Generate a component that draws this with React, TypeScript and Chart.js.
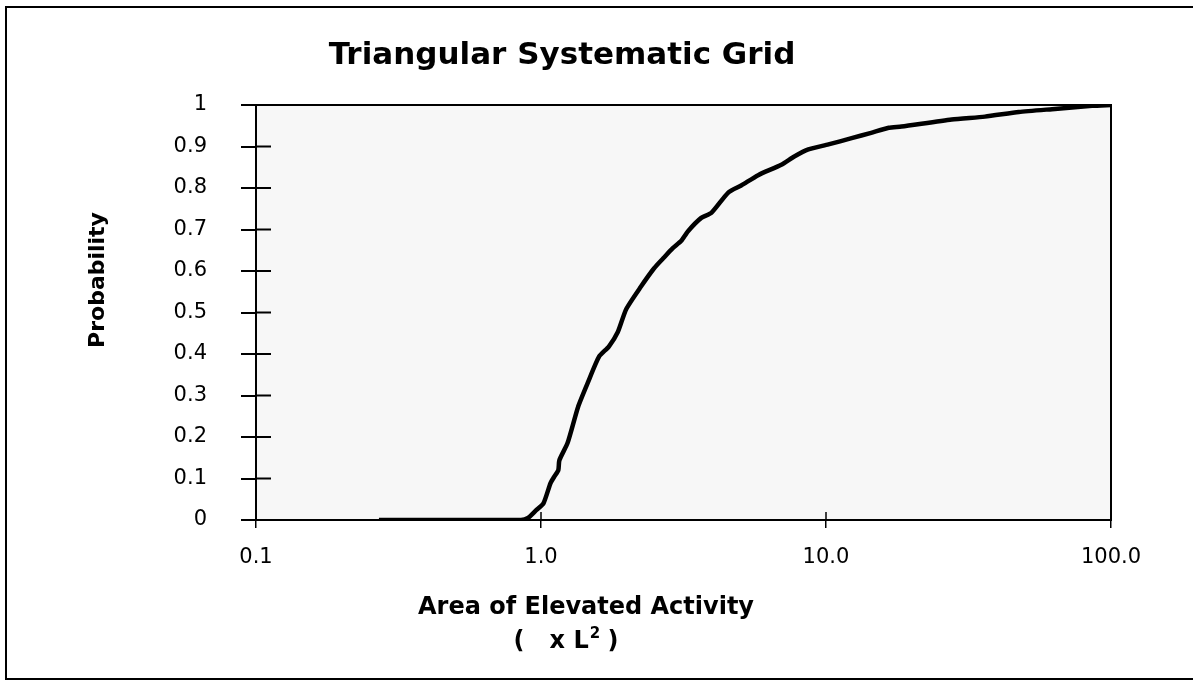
import { useEffect, useRef } from "react";
import { Chart, registerables } from "chart.js";

Chart.register(...registerables);

const chartTitle = "Triangular Systematic Grid";
const yAxisTitle = "Probability";
const xAxisTitleLine1 = "Area of Elevated Activity";
const xAxisTitleLine2Base = "(   x L";
const xAxisTitleLine2Sup = "2";
const xAxisTitleLine2End = " )";

const xTickValues = [0.1, 1, 10, 100];
const xTickLabels = ["0.1", "1.0", "10.0", "100.0"];
const yTickValues = [0, 0.1, 0.2, 0.3, 0.4, 0.5, 0.6, 0.7, 0.8, 0.9, 1];
const yTickLabels = ["0", "0.1", "0.2", "0.3", "0.4", "0.5", "0.6", "0.7", "0.8", "0.9", "1"];

const areaValues = [
  0.27, 0.85, 0.9, 0.96, 1.02, 1.08, 1.11, 1.15, 1.16, 1.24, 1.35, 1.46, 1.6, 1.73,
  1.86, 1.99, 2.24, 2.49, 2.68, 2.9, 3.1, 3.28, 3.65, 3.96, 4.54, 5.04, 5.78, 6.97,
  7.74, 8.67, 10.2, 12.3, 14.4, 16.6, 18.4, 27.6, 36.1, 47.5, 62.1, 85.8, 100,
];
const probabilityValues = [
  0, 0, 0.005, 0.023, 0.04, 0.089, 0.103, 0.12, 0.144, 0.186, 0.273, 0.331, 0.394, 0.418,
  0.453, 0.508, 0.562, 0.606, 0.63, 0.655, 0.672, 0.696, 0.728, 0.74, 0.789, 0.806, 0.831, 0.856,
  0.876, 0.893, 0.905, 0.92, 0.933, 0.945, 0.948, 0.965, 0.972, 0.983, 0.99, 0.998, 1.0,
];

const FONT = "'DejaVu Sans', 'Liberation Sans', Arial, sans-serif";

const decorPlugin = {
  id: "decor",
  beforeDraw(chart: any) {
    const { ctx, chartArea } = chart;
    ctx.save();
    ctx.fillStyle = "#f7f7f7";
    ctx.fillRect(chartArea.left, chartArea.top, chartArea.right - chartArea.left, chartArea.bottom - chartArea.top);
    ctx.restore();
  },
  afterDraw(chart: any) {
    const { ctx, chartArea, scales } = chart;
    const { left, right, top, bottom } = chartArea;
    ctx.save();
    ctx.strokeStyle = "#000";
    ctx.lineWidth = 2;
    ctx.strokeRect(left, top, right - left, bottom - top);
    yTickValues.forEach((v) => {
      const py = scales.y.getPixelForValue(v);
      ctx.beginPath();
      ctx.moveTo(left, py);
      ctx.lineTo(left + 15, py);
      ctx.stroke();
    });
    ctx.lineWidth = 1.5;
    xTickValues.forEach((v) => {
      const px = scales.x.getPixelForValue(v);
      ctx.beginPath();
      ctx.moveTo(px, bottom);
      ctx.lineTo(px, bottom - 8);
      ctx.stroke();
    });
    ctx.lineWidth = 2;
    ctx.beginPath();
    ctx.moveTo(1193, 7);
    ctx.lineTo(6, 7);
    ctx.lineTo(6, 679);
    ctx.lineTo(1193, 679);
    ctx.stroke();
    ctx.fillStyle = "#000";
    ctx.textAlign = "center";
    ctx.textBaseline = "middle";
    ctx.font = `bold 31px ${FONT}`;
    ctx.fillText(chartTitle, 562, 56);
    ctx.font = `bold 22px ${FONT}`;
    ctx.save();
    ctx.translate(98, 280);
    ctx.rotate(-Math.PI / 2);
    ctx.fillText(yAxisTitle, 0, 0);
    ctx.restore();
    ctx.font = `bold 24px ${FONT}`;
    ctx.fillText(xAxisTitleLine1, 586, 608);
    // second line with a real superscript
    const mainFont = `bold 24px ${FONT}`;
    const supFont = `bold 15px ${FONT}`;
    ctx.font = mainFont;
    const wBase = ctx.measureText(xAxisTitleLine2Base).width;
    const wEnd = ctx.measureText(xAxisTitleLine2End).width;
    ctx.font = supFont;
    const wSup = ctx.measureText(xAxisTitleLine2Sup).width;
    const total = wBase + wSup + wEnd;
    let x0 = 566 - total / 2;
    ctx.textAlign = "left";
    ctx.font = mainFont;
    ctx.fillText(xAxisTitleLine2Base, x0, 642);
    x0 += wBase;
    ctx.font = supFont;
    ctx.fillText(xAxisTitleLine2Sup, x0 + 1, 634);
    x0 += wSup;
    ctx.font = mainFont;
    ctx.fillText(xAxisTitleLine2End, x0, 642);
    ctx.restore();
  },
};

export default function App() {
  const canvasRef = useRef<HTMLCanvasElement | null>(null);

  useEffect(() => {
    if (!canvasRef.current) return;
    const data = areaValues.map((x, i) => ({ x, y: probabilityValues[i] }));
    const chart = new Chart(canvasRef.current, {
      type: "line",
      data: {
        datasets: [
          {
            data,
            borderColor: "#000",
            borderWidth: 4.5,
            pointRadius: 0,
            tension: 0.2,
            fill: false,
          },
        ],
      },
      options: {
        animation: false,
        responsive: true,
        maintainAspectRatio: false,
        layout: { padding: { left: 0, right: 82, top: 105, bottom: 0 } },
        plugins: {
          legend: { display: false },
          tooltip: { enabled: false },
          title: { display: false },
        },
        scales: {
          x: {
            type: "logarithmic",
            min: 0.1,
            max: 100,
            afterBuildTicks: (axis: any) => {
              axis.ticks = xTickValues.map((v) => ({ value: v }));
            },
            afterFit: (axis: any) => {
              axis.height = 167;
            },
            ticks: {
              color: "#000",
              font: { family: FONT, size: 21 },
              padding: 17,
              maxRotation: 0,
              autoSkip: false,
              callback: (_v: any, i: number) => xTickLabels[i],
            },
            grid: { drawOnChartArea: false, tickLength: 8, color: "#000", lineWidth: 1.5 },
            border: { display: true, color: "#000", width: 2 },
          },
          y: {
            type: "linear",
            min: 0,
            max: 1,
            afterBuildTicks: (axis: any) => {
              axis.ticks = yTickValues.map((v) => ({ value: v }));
            },
            afterFit: (axis: any) => {
              axis.width = 256;
            },
            ticks: {
              color: "#000",
              font: { family: FONT, size: 21 },
              padding: 34,
              autoSkip: false,
              callback: (_v: any, i: number) => yTickLabels[i],
            },
            grid: { drawOnChartArea: false, tickLength: 15, color: "#000", lineWidth: 2 },
            border: { display: true, color: "#000", width: 2 },
          },
        },
      },
      plugins: [decorPlugin],
    });
    return () => chart.destroy();
  }, []);

  return (
    <div style={{ position: "absolute", left: 0, top: 0, width: 1193, height: 687, background: "#fff" }}>
      <canvas ref={canvasRef} />
    </div>
  );
}
